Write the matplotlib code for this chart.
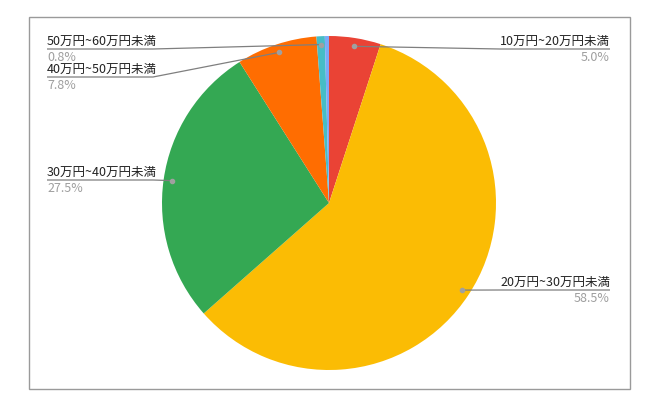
import numpy as np
import matplotlib
matplotlib.use("Agg")
import matplotlib.pyplot as plt
from matplotlib.patches import Rectangle

plt.rcParams['font.family'] = ['Noto Sans CJK JP', 'DejaVu Sans']

# ---- data ----
categories = ["10万円~20万円未満", "20万円~30万円未満", "30万円~40万円未満",
              "40万円~50万円未満", "50万円~60万円未満", "60万円以上"]
values = [5.0, 58.5, 27.5, 7.8, 0.8, 0.4]
pct_labels = ["5.0%", "58.5%", "27.5%", "7.8%", "0.8%", ""]
colors = ["#EA4335", "#FBBC04", "#34A853", "#FF6D01", "#46BDC6", "#7BAAF7"]
show_label = [True, True, True, True, True, False]

W, H = 657, 412
fig = plt.figure(figsize=(W / 100, H / 100), dpi=100)
ax = fig.add_axes([0, 0, 1, 1])

cx, cy, R = 329, H - 203, 167
wedges, _ = ax.pie(values, colors=colors, startangle=90, counterclock=False,
                   center=(cx, cy), radius=R,
                   wedgeprops=dict(linewidth=0))
ax.set_xlim(0, W)
ax.set_ylim(0, H)
ax.axis("off")

# frame
ax.add_patch(Rectangle((29, H - 389), 601, 372, fill=False,
                       edgecolor="#9a9a9a", linewidth=1.0, zorder=0))

# label layout: (side, underline y in px from top)
layout = {
    0: ("right", 49),
    1: ("right", 290),
    2: ("left", 180),
    3: ("left", 77),
    4: ("left", 49),
}
left_x, right_x = 47, 610
left_elbow, right_elbow = 153, 500
line_col = "#7f7f7f"
fs = 9

for i, w in enumerate(wedges):
    if not show_label[i]:
        continue
    ang = np.deg2rad((w.theta1 + w.theta2) / 2)
    dx = cx + 0.95 * R * np.cos(ang)
    dy = cy + 0.95 * R * np.sin(ang)
    side, uy = layout[i]
    UY = H - uy
    if side == "left":
        ex = min(left_elbow, dx)
        xs = [left_x, ex, dx]
        ys = [UY, UY, dy]
        tx, ha = left_x, "left"
    else:
        ex = max(right_elbow, dx)
        xs = [right_x, ex, dx]
        ys = [UY, UY, dy]
        tx, ha = right_x, "right"
    ax.plot(xs, ys, color=line_col, linewidth=0.9, solid_capstyle="butt", zorder=3)
    ax.plot([dx], [dy], "o", color="#a0a0a0", markersize=3, zorder=4)
    ax.text(tx, UY + 8, categories[i], ha=ha, va="center", fontsize=fs,
            color="#222222", zorder=5)
    ax.text(tx, UY - 8, pct_labels[i], ha=ha, va="center", fontsize=fs,
            color="#9e9e9e", zorder=5)

fig.savefig("out.png", dpi=100)
